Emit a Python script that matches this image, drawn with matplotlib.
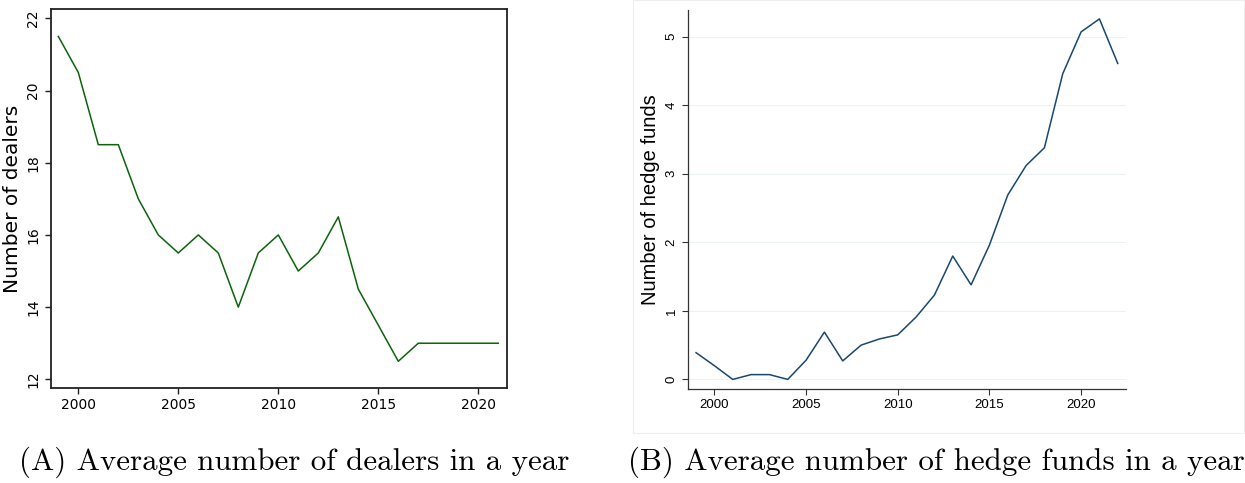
import matplotlib
matplotlib.use("Agg")
import matplotlib.pyplot as plt
from matplotlib.patches import Rectangle

# average dealers per year
dealer_years = list(range(1999, 2022))
dealers = [21.5, 20.5, 18.5, 18.5, 17, 16, 15.5, 16, 15.5, 14, 15.5, 16,
           15, 15.5, 16.5, 14.5, 13.5, 12.5, 13, 13, 13, 13, 13]

# average hedge funds per year
fund_years = list(range(1999, 2023))
funds = [0.39, 0.20, 0.0, 0.07, 0.07, 0.0, 0.28, 0.69, 0.27, 0.50, 0.59, 0.65,
         0.91, 1.23, 1.80, 1.38, 1.96, 2.69, 3.12, 3.38, 4.46, 5.07, 5.26, 4.61]

year_ticks = [2000, 2005, 2010, 2015, 2020]
dealer_ticks = [12, 14, 16, 18, 20, 22]
fund_ticks = [0, 1, 2, 3, 4, 5]

W, H = 1245, 483
fig = plt.figure(figsize=(W / 100, H / 100), dpi=100)


def box(x0, y0, x1, y1):
    return [x0 / W, 1 - y1 / H, (x1 - x0) / W, (y1 - y0) / H]


# panel A
ax1 = fig.add_axes(box(50.7, 9.3, 506.7, 388))
ax1.plot(dealer_years, dealers, color="#0b640b", lw=1.1)
ax1.set_xlim(1998.62, 2021.42)
ax1.set_ylim(11.76, 22.25)
ax1.set_xticks(year_ticks)
ax1.set_yticks(dealer_ticks)
ax1.tick_params(labelsize=10, length=4, width=1, color="#222222")
plt.setp(ax1.get_yticklabels(), rotation=90, va="center")
ax1.set_ylabel("Number of dealers", fontsize=14.5, labelpad=3)
for s in ax1.spines.values():
    s.set_linewidth(1.3)
    s.set_color("#222222")

# panel B, Stata-like look
fig.patches.append(Rectangle((633 / W, 1 - 433 / H), (1244 - 633) / W, 433 / H,
                             transform=fig.transFigure, fill=False,
                             edgecolor="#eeeeee", lw=0.8))
ax2 = fig.add_axes(box(688, 10, 1126, 389))
ax2.plot(fund_years, funds, color="#1a476f", lw=1.1)
ax2.set_xlim(1998.56, 2022.45)
ax2.set_ylim(-0.14, 5.39)
ax2.set_xticks(year_ticks)
ax2.set_yticks(fund_ticks)
ax2.grid(axis="y", color="#eaf2f3", lw=0.8)
ax2.set_axisbelow(True)
for lab in ax2.get_xticklabels() + ax2.get_yticklabels():
    lab.set_family("Liberation Sans")
ax2.tick_params(labelsize=9.5, length=4, width=0.8, color="#333333")
plt.setp(ax2.get_yticklabels(), rotation=90, va="center")
ax2.set_ylabel("Number of hedge funds", fontsize=14.5, family="Liberation Sans",
               labelpad=4)
ax2.spines["top"].set_visible(False)
ax2.spines["right"].set_visible(False)
for s in ("left", "bottom"):
    ax2.spines[s].set_linewidth(0.9)
    ax2.spines[s].set_color("#333333")

# captions
fig.text(294 / W, 1 - 462 / H, "(A) Average number of dealers in a year",
         family="cmr10", fontsize=22.3, ha="center", va="center")
fig.text(936 / W, 1 - 462 / H, "(B) Average number of hedge funds in a year",
         family="cmr10", fontsize=22.3, ha="center", va="center")

fig.savefig("out.png", dpi=100)
